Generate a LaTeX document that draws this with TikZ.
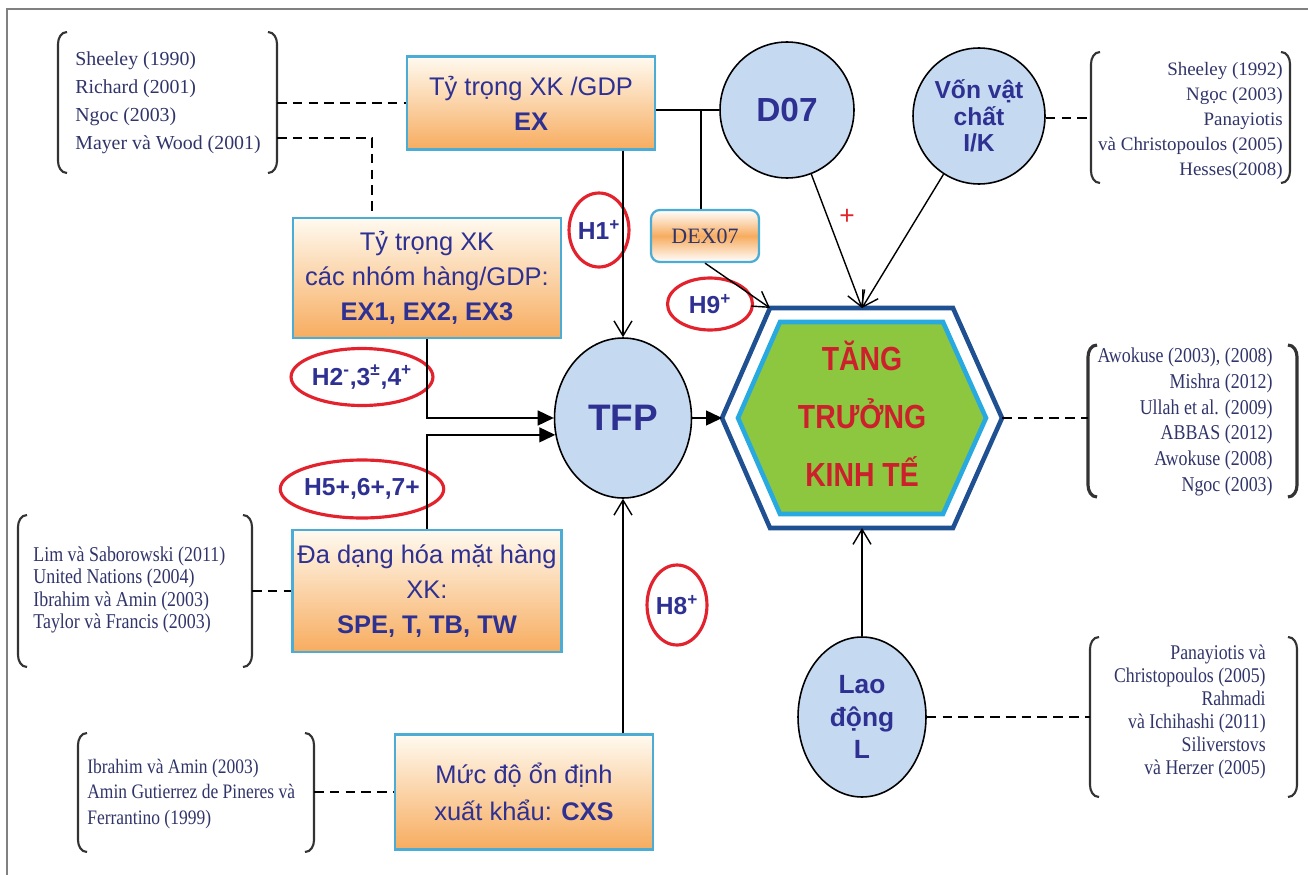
\documentclass[tikz,border=0pt]{standalone}
\usepackage{fontspec}
\setmainfont{Liberation Sans}
\newfontfamily\refserif{Liberation Serif}
\newfontfamily\refnarrow[FakeStretch=0.85]{Liberation Serif}
\newfontfamily\hexfont[FakeStretch=0.85]{Liberation Sans}
\usetikzlibrary{arrows.meta,shapes.geometric}

\definecolor{navy}{RGB}{46,49,146}
\definecolor{refblue}{RGB}{48,52,105}
\definecolor{boxline}{RGB}{75,172,214}
\definecolor{boxtop}{RGB}{255,250,240}
\definecolor{boxbot}{RGB}{247,172,95}
\definecolor{circfill}{RGB}{197,217,241}
\definecolor{hypred}{RGB}{226,35,45}
\definecolor{hexdark}{RGB}{31,80,145}
\definecolor{hexlight}{RGB}{40,170,225}
\definecolor{hexgreen}{RGB}{141,198,63}
\definecolor{growred}{RGB}{205,32,45}

\tikzset{
  varbox/.style={draw=boxline, line width=1.3pt, top color=boxtop, bottom color=boxbot,
    text=navy, align=center, inner sep=0pt, font=\fontsize{14.5}{20}\selectfont},
  factor/.style={ellipse, draw=black, line width=0.9pt, fill=circfill, text=navy,
    align=center, inner sep=0pt},
  hyp/.style={ellipse, draw=hypred, line width=1.8pt, text=navy, inner sep=0pt,
    font=\bfseries\fontsize{14}{16}\selectfont},
  reflist/.style={text=refblue, inner sep=0pt},
  tie/.style={dash pattern=on 5.5pt off 3.5pt, line width=1.1pt},
  link/.style={line width=0.8pt, -{Straight Barb[length=3mm,width=3.6mm]}},
  feed/.style={line width=0.8pt, -{Triangle[length=3.2mm,width=3mm]}},
  bracket/.style={line width=1.2pt, black!80}
}

% left x, right x, top y, bottom y
\newcommand{\refparens}[5][]{%
  \draw[bracket,#1] (#2+9,#4) to[out=180,in=90] (#2,#4+12) -- (#2,#5-12) to[out=-90,in=180] (#2+9,#5);
  \draw[bracket,#1] (#3-9,#4) to[out=0,in=90] (#3,#4+12) -- (#3,#5-12) to[out=-90,in=0] (#3-9,#5);}

\begin{document}
\begin{tikzpicture}[x=0.02cm, y=-0.02cm]
    \useasboundingbox (0,0) rectangle (1308,875);
    \draw[gray, line width=0.6pt] (7,875) -- (7,9) -- (1308,9);

    % export variables
    \node[varbox, minimum width=4.96cm, minimum height=1.86cm] (ex) at (531,103) {Tỷ trọng XK /GDP\\\textbf{EX}};
    \node[varbox, minimum width=5.36cm, minimum height=2.4cm] (exg) at (427,278) {Tỷ trọng XK\\các nhóm hàng/GDP:\\\textbf{EX1, EX2, EX3}};
    \node[varbox, minimum width=5.38cm, minimum height=2.44cm] (dd) at (427,591) {Đa dạng hóa mặt hàng\\XK:\\\textbf{SPE, T, TB, TW}};
    \node[varbox, minimum width=5.16cm, minimum height=2.3cm, font=\fontsize{14.5}{21}\selectfont] (cxs) at (524,792) {Mức độ ổn định\\xuất khẩu: \textbf{CXS}};
    \node[varbox, rounded corners=5pt, top color=white, bottom color=white, middle color=boxbot,
      text=refblue, font=\refserif\fontsize{12.5}{14}\selectfont, minimum width=2.16cm, minimum height=1.04cm] (dex) at (705,236) {DEX07};

    % factors
    \node[factor, minimum width=2.68cm, minimum height=2.72cm, font=\bfseries\fontsize{19}{22}\selectfont] (d07) at (787,110) {D07};
    \node[factor, minimum width=2.64cm, minimum height=2.72cm, font=\bfseries\fontsize{14}{15}\selectfont] (von) at (979,116) {Vốn vật\\chất\\I/K};
    \node[factor, minimum width=2.74cm, minimum height=3.2cm, font=\bfseries\fontsize{21}{24}\selectfont] (tfp) at (623,418) {TFP};
    \node[factor, minimum width=2.56cm, minimum height=3.2cm, font=\bfseries\fontsize{15}{18.5}\selectfont] (lao) at (862,717) {Lao\\động\\L};

    % growth hexagon
    \coordinate (hexL) at (722,418);
    \coordinate (hexTL) at (770,308);
    \coordinate (hexTop) at (862,308);
    \coordinate (hexBot) at (862,528);
    \coordinate (hexR) at (1002,418);
    \draw[hexdark, line width=2.6pt, fill=white] (hexL) -- (hexTL) -- (953,308) -- (hexR) -- (953,528) -- (770,528) -- cycle;
    \draw[hexlight, line width=2.6pt, fill=hexgreen] (738,418) -- (780,322) -- (943,322) -- (986,418) -- (943,514) -- (780,514) -- cycle;
    \node[text=growred, align=center, font=\hexfont\bfseries\fontsize{19}{33}\selectfont] (growth) at (862,414) {TĂNG\\TRƯỞNG\\KINH TẾ};

    % hypotheses
    \node[hyp, minimum width=0.96cm, minimum height=1.48cm] (h1) at (599,230) {H1\textsuperscript{+}};
    \node[hyp, minimum width=1.7cm, minimum height=1.04cm] (h9) at (710,304) {H9\textsuperscript{+}};
    \node[hyp, minimum width=2.42cm, minimum height=1.14cm] (h2) at (362,377) {H2\textsuperscript{-},3\textsuperscript{±},4\textsuperscript{+}};
    \node[hyp, minimum width=2.82cm, minimum height=1.16cm] (h5) at (362,489) {H5+,6+,7+};
    \node[hyp, minimum width=0.9cm, minimum height=1.6cm] (h8) at (677,605) {H8\textsuperscript{+}};
    \node[text=hypred, font=\fontsize{15}{15}\selectfont] (plus) at (847,217) {+};

    % references
    \node[reflist, anchor=west, align=left, font=\refserif\fontsize{11.3}{15.9}\selectfont] (refex) at (75,103)
      {Sheeley (1990)\\Richard (2001)\\Ngoc (2003)\\Mayer và Wood (2001)};
    \refparens{58}{277}{32}{173}
    \node[reflist, anchor=east, align=right, font=\refserif\fontsize{10.8}{14.2}\selectfont] (refvon) at (1283,121)
      {Sheeley (1992)\\Ngọc (2003)\\Panayiotis\\và  Christopoulos (2005)\\Hesses(2008)};
    \refparens{1091}{1290}{52}{183}
    \node[reflist, anchor=east, align=right, font=\refnarrow\fontsize{12}{14.7}\selectfont] (refgrowth) at (1273,422)
      {Awokuse (2003), (2008)\\Mishra  (2012)\\Ullah et al. (2009)\\ABBAS (2012)\\Awokuse (2008)\\Ngoc (2003)};
    \refparens[line width=1.8pt]{1088}{1297}{345}{497}
    \node[reflist, anchor=east, align=right, font=\refnarrow\fontsize{11.9}{13}\selectfont] (reflao) at (1266,712)
      {Panayiotis và\\Christopoulos (2005)\\Rahmadi\\và Ichihashi (2011)\\Siliverstovs\\và Herzer (2005)};
    \refparens{1090}{1297}{637}{797}
    \node[reflist, anchor=west, align=left, font=\refnarrow\fontsize{12}{12.8}\selectfont] (refdd) at (33,590)
      {Lim và Saborowski (2011)\\United Nations (2004)\\Ibrahim và Amin (2003)\\Taylor và Francis (2003)};
    \refparens{18}{252}{515}{667}
    \node[reflist, anchor=west, align=left, font=\refnarrow\fontsize{11.7}{14.6}\selectfont] (refcxs) at (87,794)
      {Ibrahim và Amin (2003)\\Amin Gutierrez de Pineres và\\Ferrantino (1999)};
    \refparens{78}{314}{733}{852}

    % dashed ties to references
    \coordinate (brEX) at (277,103);
    \coordinate (brEXg) at (277,138);
    \coordinate (kink) at (372,138);
    \draw[tie] (brEX) -- (ex.west);
    \draw[tie] (brEXg) -- (kink) -- (kink |- exg.north);
    \coordinate (brV) at (1091,118);
    \draw[tie] (von.east |- brV) -- (brV);
    \coordinate (brG) at (1088,418);
    \draw[tie] (hexR) -- (brG);
    \coordinate (brL) at (1090,717);
    \draw[tie] (lao.east) -- (brL);
    \coordinate (brD) at (252,591);
    \draw[tie] (brD) -- (dd.west);
    \coordinate (brC) at (314,792);
    \draw[tie] (brC) -- (cxs.west);

    % effects
    \coordinate (split) at (701,110);
    \draw[line width=0.8pt] (ex.east |- d07.west) -- (d07.west);
    \draw[line width=0.8pt] (split) -- (split |- dex.north);
    \draw[link] (ex.south -| tfp.north) -- (tfp.north);
    \draw[feed] (exg.south) |- (tfp.west);
    \draw[feed] (dd.north) |- (tfp.194);
    \draw[link] (cxs.north -| tfp.south) -- (tfp.south);
    \draw[feed] (tfp.east) -- (hexL);
    \draw[link] (dex.south) -- (hexTL);
    \draw[link] (d07) -- (hexTop);
    \draw[link] (von) -- (hexTop);
    \draw[link] (lao.north) -- (hexBot);
\end{tikzpicture}
\end{document}
